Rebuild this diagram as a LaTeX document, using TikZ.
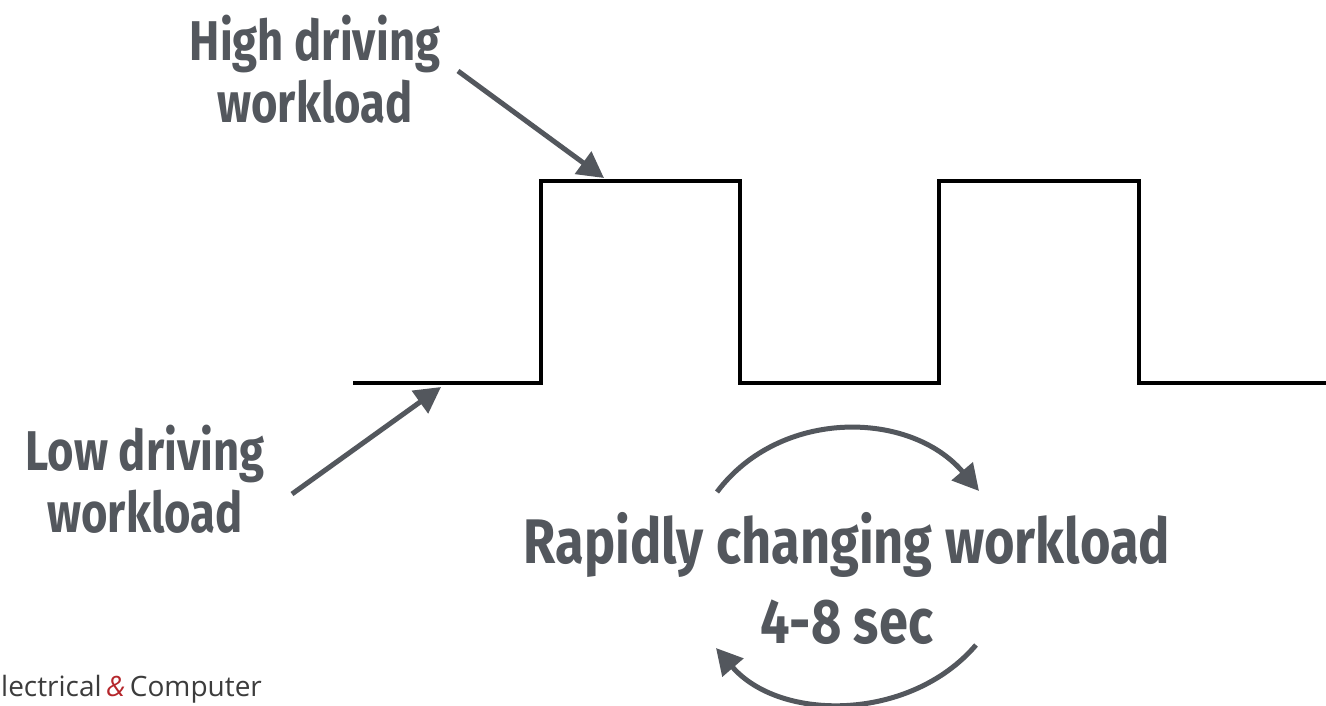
\documentclass[tikz,border=0pt]{standalone}
\usepackage{fontspec}
\setmainfont{Fira Sans}
\newfontfamily\logofont{Open Sans}
\usetikzlibrary{arrows.meta}
\definecolor{ink}{HTML}{53575D}
\definecolor{logogray}{HTML}{3C3C3C}
\definecolor{logored}{HTML}{B5262B}
\tikzset{
  wave/.style={line width=4pt, black, line join=miter},
  pointer/.style={line width=5pt, ink, -{Triangle[length=26pt,width=27pt]}},
  label/.style={ink, font=\fontsize{56}{62}\selectfont\bfseries, align=center, inner sep=0pt},
  biglabel/.style={ink, font=\fontsize{63}{66}\selectfont\bfseries, align=center, inner sep=0pt},
}
\begin{document}
\begin{tikzpicture}[x=1pt,y=-1pt]
\path[use as bounding box, fill=white] (0,0) rectangle (1326,705);
% square wave
\coordinate (w0) at (353,383);
\coordinate (w1) at (541,383);
\coordinate (w2) at (541,181);
\coordinate (w3) at (740,181);
\coordinate (w4) at (740,383);
\coordinate (w5) at (939,383);
\coordinate (w6) at (939,181);
\coordinate (w7) at (1139,181);
\coordinate (w8) at (1139,383);
\coordinate (w9) at (1326,383);
\draw[wave] (w0) -- (w1) -- (w2) -- (w3) -- (w4) -- (w5) -- (w6) -- (w7) -- (w8) -- (w9);
% labels
\node[label] (high) at (315,69) {\scalebox{0.81}[1]{High driving}\\\scalebox{0.81}[1]{workload}};
\node[label] (low) at (145,479) {\scalebox{0.81}[1]{Low driving}\\\scalebox{0.81}[1]{workload}};
\node[biglabel] (rapid) at (847,545) {\scalebox{0.83}[1]{Rapidly changing workload}};
\node[biglabel] (time) at (847,622) {\scalebox{0.83}[1]{4-8 sec}};
% pointer arrows
\coordinate (hs) at (458,71);
\coordinate (ht) at (604,178);
\coordinate (ls) at (292,494);
\coordinate (lt) at (441,387);
\draw[pointer] (hs) -- (ht);
\draw[pointer] (ls) -- (lt);
% cycle arrows
\coordinate (as) at (717,492);
\coordinate (at) at (979,491);
\coordinate (bs) at (976,645);
\coordinate (bt) at (716,648);
\draw[pointer] (as) .. controls (780,408) and (910,410) .. (at);
\draw[pointer] (bs) .. controls (910,722) and (780,722) .. (bt);
% logo
\node[anchor=base west, inner sep=0pt, font=\logofont\fontsize{28}{30}\selectfont, text=logogray] (logo) at (1,696)
  {lectrical\,{\color{logored}\itshape\&}\,Computer};
\end{tikzpicture}
\end{document}
